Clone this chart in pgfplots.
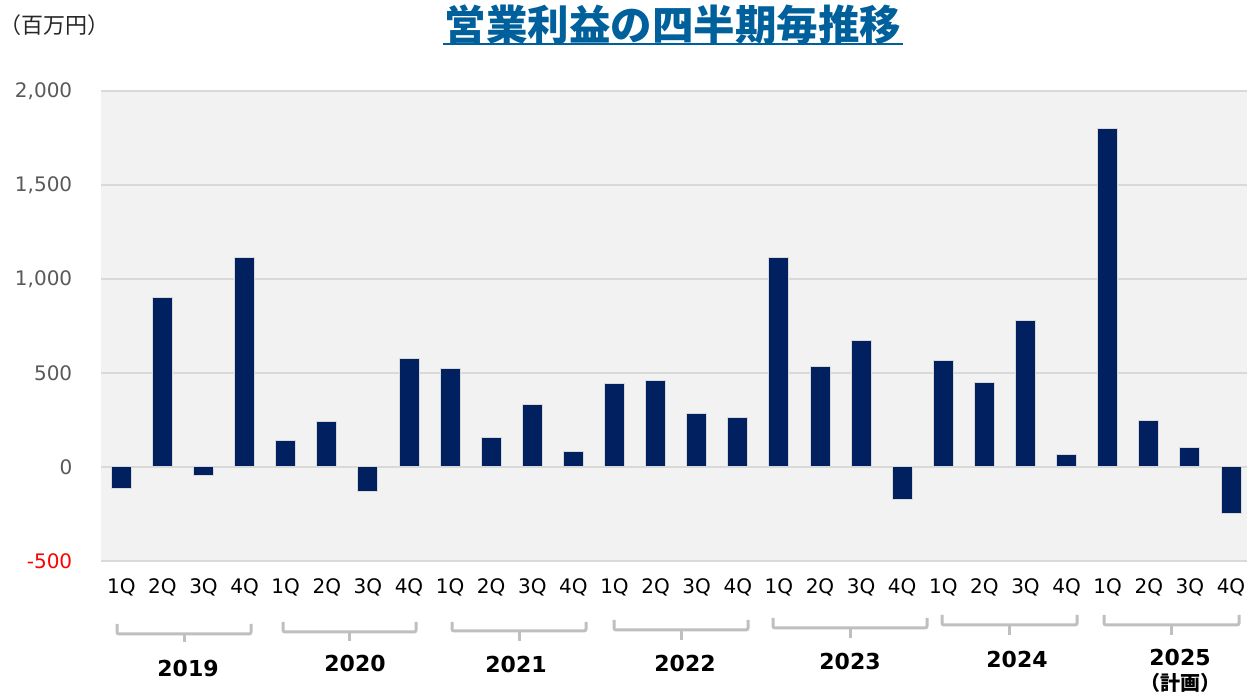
\documentclass[border=0pt]{standalone}
\usepackage{fontspec}
\setmainfont{DejaVu Sans}
\newfontfamily\jp{Noto Sans CJK JP}
\usepackage{pgfplots}
\usepackage{pgfplotstable}
\pgfplotsset{compat=1.18}
\definecolor{navy}{HTML}{002060}
\definecolor{bggray}{HTML}{F2F2F2}
\definecolor{gridgray}{HTML}{D9D9D9}
\definecolor{titleblue}{HTML}{00609C}
\definecolor{tickgray}{HTML}{595959}
\definecolor{brgray}{HTML}{BFBFBF}
\pgfplotstableread{
x y
0 -115
1 900
2 -44
3 1115
4 142
5 241
6 -128
7 578
8 522
9 157
10 334
11 84
12 444
13 461
14 284
15 264
16 1115
17 537
18 674
19 -174
20 568
21 451
22 780
23 67
24 1801
25 246
26 104
27 -246
}\profit
\begin{document}
\begin{tikzpicture}[x=1bp,y=1bp]
\useasboundingbox (0,0) rectangle (1247,693);
\begin{axis}[
  at={(100.75bp,132bp)}, anchor=south west,
  scale only axis, width=1146.25bp, height=470bp,
  xmin=-0.5, xmax=27.39, ymin=-500, ymax=2000,
  axis background/.style={fill=bggray},
  axis line style={draw=none},
  ytick={-500,0,500,1000,1500,2000},
  yticklabels={{\color{red}-500},0,500,{1,000},{1,500},{2,000}},
  ymajorgrids, grid style={gridgray, line width=1.5bp},
  major tick length=0pt,
  xtick={0,...,27},
  xticklabels={1Q,2Q,3Q,4Q,1Q,2Q,3Q,4Q,1Q,2Q,3Q,4Q,1Q,2Q,3Q,4Q,1Q,2Q,3Q,4Q,1Q,2Q,3Q,4Q,1Q,2Q,3Q,4Q},
  tick label style={font=\fontsize{20bp}{24bp}\selectfont},
  yticklabel style={text=tickgray, anchor=east, xshift=-25bp},
  xticklabel style={text=black, anchor=north, yshift=-14bp},
  clip=false,
]
\addplot[ybar, bar width=20bp, bar shift=0pt, fill=navy, draw=gridgray, line width=1bp] table[x=x,y=y]{\profit};
\end{axis}
% title and unit
\node[font=\jp\bfseries\fontsize{41.5bp}{46bp}\selectfont, text=titleblue] at (673,668) {営業利益の四半期毎推移};
\draw[titleblue, line width=2.5bp] (443,649) -- (903,649);
\node[font=\jp\fontsize{22bp}{26bp}\selectfont, text=black!85] at (54.5,668) {（百万円）};
% year brackets
\foreach \L/\R/\T/\M/\B in {117/251/624/634/642, 283/416/622/632/641, 452/586/622/631/641, 614/748/620/630/640, 773/927/618/628/638, 942/1077/615/625/635, 1104/1239/615/625/635}{
  \draw[brgray, line width=3bp, rounded corners=2bp] (\L,693-\T) -- (\L,693-\M) -- (\R,693-\M) -- (\R,693-\T);
  \draw[brgray, line width=3bp] ({(\L+\R)/2},693-\M) -- ({(\L+\R)/2},693-\B);
}
\foreach \X/\Y/\txt in {188/668/2019, 355/663/2020, 516/664/2021, 685/663/2022, 850/661/2023, 1017/659/2024, 1180/657/2025}{
  \node[font=\bfseries\fontsize{22bp}{26bp}\selectfont] at (\X,693-\Y) {\txt};
}
\node[font=\jp\bfseries\fontsize{20bp}{24bp}\selectfont] at (1180,693-683) {（計画）};
\end{tikzpicture}
\end{document}
